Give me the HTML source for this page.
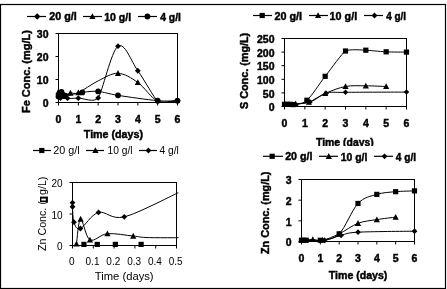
<!DOCTYPE html>
<html><head><meta charset="utf-8"><style>
html,body{margin:0;padding:0;background:#fff;width:447px;height:289px;overflow:hidden}
svg{display:block;will-change:transform}
text{font-family:"Liberation Sans", sans-serif;fill:#000}
</style></head><body>
<svg width="447" height="289" viewBox="0 0 447 289">
<defs><clipPath id="c3"><rect x="60" y="175" width="118.5" height="80"/></clipPath><clipPath id="p1"><rect x="58" y="33" width="120" height="70"/></clipPath><clipPath id="p2"><rect x="284" y="38" width="123" height="69"/></clipPath><clipPath id="p4"><rect x="301" y="179" width="114" height="63"/></clipPath><clipPath id="c2t"><rect x="0" y="0" width="447" height="146"/></clipPath></defs>
<rect x="0.5" y="4.5" width="445" height="284" fill="none" stroke="#000" stroke-width="1.2"/>
<rect x="58.5" y="33.5" width="119.0" height="69.0" fill="none" stroke="#000" stroke-width="1"/>
<path d="M55.5,102.50H58.5M55.5,79.50H58.5M55.5,56.50H58.5M55.5,33.50H58.5M58.50,102.5V105.5M78.33,102.5V105.5M98.17,102.5V105.5M118.00,102.5V105.5M137.83,102.5V105.5M157.67,102.5V105.5M177.50,102.5V105.5" stroke="#000" stroke-width="1" fill="none"/>
<text x="48.50" y="107.10" font-size="10.5" font-weight="bold" text-anchor="end" stroke="#000" stroke-width="0.45">0</text>
<text x="48.50" y="84.10" font-size="10.5" font-weight="bold" text-anchor="end" stroke="#000" stroke-width="0.45">10</text>
<text x="48.50" y="61.10" font-size="10.5" font-weight="bold" text-anchor="end" stroke="#000" stroke-width="0.45">20</text>
<text x="48.50" y="38.10" font-size="10.5" font-weight="bold" text-anchor="end" stroke="#000" stroke-width="0.45">30</text>
<text x="58.50" y="123.10" font-size="10.5" font-weight="bold" text-anchor="middle" stroke="#000" stroke-width="0.45">0</text>
<text x="78.33" y="123.10" font-size="10.5" font-weight="bold" text-anchor="middle" stroke="#000" stroke-width="0.45">1</text>
<text x="98.17" y="123.10" font-size="10.5" font-weight="bold" text-anchor="middle" stroke="#000" stroke-width="0.45">2</text>
<text x="118.00" y="123.10" font-size="10.5" font-weight="bold" text-anchor="middle" stroke="#000" stroke-width="0.45">3</text>
<text x="137.83" y="123.10" font-size="10.5" font-weight="bold" text-anchor="middle" stroke="#000" stroke-width="0.45">4</text>
<text x="157.67" y="123.10" font-size="10.5" font-weight="bold" text-anchor="middle" stroke="#000" stroke-width="0.45">5</text>
<text x="177.50" y="123.10" font-size="10.5" font-weight="bold" text-anchor="middle" stroke="#000" stroke-width="0.45">6</text>
<text x="83.80" y="137.80" font-size="11" font-weight="bold" textLength="59.20" lengthAdjust="spacingAndGlyphs" stroke="#000" stroke-width="0.45">Time (days)</text>
<text x="30.35" y="113.00" font-size="11" font-weight="bold" textLength="82.80" lengthAdjust="spacingAndGlyphs" stroke="#000" stroke-width="0.45" transform="rotate(-90 30.35 113.00)">Fe Conc. (mg/L)</text>
<path d="M27,16.5H46" stroke="#000" stroke-width="1.2"/>
<polygon points="37.20,13.31 40.39,16.50 37.20,19.69 34.01,16.50"/>
<text x="49.20" y="20.30" font-size="10.5" font-weight="bold" textLength="27.60" lengthAdjust="spacingAndGlyphs" stroke="#000" stroke-width="0.45">20 g/l</text>
<path d="M83,16.5H102" stroke="#000" stroke-width="1.2"/>
<polygon points="92.40,13.30 95.50,19.10 89.30,19.10"/>
<text x="104.20" y="20.70" font-size="10.5" font-weight="bold" textLength="27.00" lengthAdjust="spacingAndGlyphs" stroke="#000" stroke-width="0.45">10 g/l</text>
<path d="M138,16.5H157" stroke="#000" stroke-width="1.2"/>
<circle cx="147.40" cy="16.50" r="2.90"/>
<text x="160.20" y="20.70" font-size="10.5" font-weight="bold" textLength="20.80" lengthAdjust="spacingAndGlyphs" stroke="#000" stroke-width="0.45">4 g/l</text>
<path d="M58.50,94.22 C58.83,94.87 59.66,98.13 60.48,98.13 C61.31,98.13 62.30,94.22 63.46,94.22 C64.62,94.22 64.95,97.48 67.42,98.13 C69.90,98.78 73.21,98.17 78.33,98.13 C83.46,98.09 94.20,103.10 98.17,97.90 C102.13,92.70 111.39,50.67 118.00,46.15 C124.61,41.63 131.22,61.60 137.83,70.76 C144.44,79.92 154.36,98.63 157.67,101.12 C160.97,103.61 174.19,100.74 177.50,100.66" stroke="#000" stroke-width="1" fill="none" clip-path="url(#p1)"/>
<polygon points="58.50,91.32 61.40,94.22 58.50,97.12 55.60,94.22"/>
<polygon points="60.48,95.23 63.38,98.13 60.48,101.03 57.58,98.13"/>
<polygon points="63.46,91.32 66.36,94.22 63.46,97.12 60.56,94.22"/>
<polygon points="67.42,95.23 70.33,98.13 67.42,101.03 64.52,98.13"/>
<polygon points="78.33,95.23 81.23,98.13 78.33,101.03 75.43,98.13"/>
<polygon points="98.17,95.00 101.07,97.90 98.17,100.80 95.27,97.90"/>
<polygon points="118.00,43.25 120.90,46.15 118.00,49.05 115.10,46.15"/>
<polygon points="137.83,67.86 140.73,70.76 137.83,73.66 134.93,70.76"/>
<polygon points="157.67,98.22 160.57,101.12 157.67,104.02 154.77,101.12"/>
<polygon points="177.50,97.76 180.40,100.66 177.50,103.56 174.60,100.66"/>
<path d="M58.50,91.69 C59.16,92.50 60.48,96.29 62.47,96.52 C64.45,96.75 67.76,93.72 70.40,93.07 C73.04,92.42 73.71,94.64 78.33,92.61 C82.96,90.58 91.56,84.10 98.17,80.88 C104.78,77.66 111.39,73.02 118.00,73.29 C124.61,73.56 131.22,77.85 137.83,82.49 C144.44,87.13 151.06,98.09 157.67,101.12 C164.28,104.15 174.19,100.74 177.50,100.66" stroke="#000" stroke-width="1" fill="none" clip-path="url(#p1)"/>
<polygon points="58.50,88.49 61.60,94.29 55.40,94.29"/>
<polygon points="62.47,93.32 65.57,99.12 59.37,99.12"/>
<polygon points="70.40,89.87 73.50,95.67 67.30,95.67"/>
<polygon points="78.33,89.41 81.43,95.21 75.23,95.21"/>
<polygon points="118.00,70.09 121.10,75.89 114.90,75.89"/>
<polygon points="137.83,79.29 140.93,85.09 134.73,85.09"/>
<path d="M58.50,96.52 C59.00,95.75 60.32,92.07 61.48,91.92 C62.63,91.77 61.97,95.52 65.44,95.60 C68.91,95.68 76.85,93.07 82.30,92.38 C87.75,91.69 92.22,90.96 98.17,91.46 C104.12,91.96 108.08,93.84 118.00,95.37 C127.92,96.90 147.75,99.78 157.67,100.66 C167.58,101.54 174.19,100.66 177.50,100.66" stroke="#000" stroke-width="1" fill="none" clip-path="url(#p1)"/>
<circle cx="58.50" cy="96.52" r="2.90"/>
<circle cx="61.48" cy="91.92" r="2.90"/>
<circle cx="65.44" cy="95.60" r="2.90"/>
<circle cx="82.30" cy="92.38" r="2.90"/>
<circle cx="98.17" cy="91.46" r="2.90"/>
<circle cx="118.00" cy="95.37" r="2.90"/>
<circle cx="157.67" cy="100.66" r="2.90"/>
<circle cx="177.50" cy="100.66" r="2.90"/>
<rect x="284.5" y="38.5" width="122.0" height="68.0" fill="none" stroke="#000" stroke-width="1"/>
<path d="M281.5,106.50H284.5M281.5,92.90H284.5M281.5,79.30H284.5M281.5,65.70H284.5M281.5,52.10H284.5M281.5,38.50H284.5M284.50,106.5V109.5M304.83,106.5V109.5M325.17,106.5V109.5M345.50,106.5V109.5M365.83,106.5V109.5M386.17,106.5V109.5M406.50,106.5V109.5" stroke="#000" stroke-width="1" fill="none"/>
<text x="274.50" y="111.10" font-size="10.5" font-weight="bold" text-anchor="end" stroke="#000" stroke-width="0.45">0</text>
<text x="274.50" y="97.50" font-size="10.5" font-weight="bold" text-anchor="end" stroke="#000" stroke-width="0.45">50</text>
<text x="274.50" y="83.90" font-size="10.5" font-weight="bold" text-anchor="end" stroke="#000" stroke-width="0.45">100</text>
<text x="274.50" y="70.30" font-size="10.5" font-weight="bold" text-anchor="end" stroke="#000" stroke-width="0.45">150</text>
<text x="274.50" y="56.70" font-size="10.5" font-weight="bold" text-anchor="end" stroke="#000" stroke-width="0.45">200</text>
<text x="274.50" y="43.10" font-size="10.5" font-weight="bold" text-anchor="end" stroke="#000" stroke-width="0.45">250</text>
<text x="284.50" y="127.30" font-size="10.5" font-weight="bold" text-anchor="middle" stroke="#000" stroke-width="0.45">0</text>
<text x="304.83" y="127.30" font-size="10.5" font-weight="bold" text-anchor="middle" stroke="#000" stroke-width="0.45">1</text>
<text x="325.17" y="127.30" font-size="10.5" font-weight="bold" text-anchor="middle" stroke="#000" stroke-width="0.45">2</text>
<text x="345.50" y="127.30" font-size="10.5" font-weight="bold" text-anchor="middle" stroke="#000" stroke-width="0.45">3</text>
<text x="365.83" y="127.30" font-size="10.5" font-weight="bold" text-anchor="middle" stroke="#000" stroke-width="0.45">4</text>
<text x="386.17" y="127.30" font-size="10.5" font-weight="bold" text-anchor="middle" stroke="#000" stroke-width="0.45">5</text>
<text x="406.50" y="127.30" font-size="10.5" font-weight="bold" text-anchor="middle" stroke="#000" stroke-width="0.45">6</text>
<text x="316.00" y="145.80" font-size="11" font-weight="bold" textLength="57.80" lengthAdjust="spacingAndGlyphs" stroke="#000" stroke-width="0.45" clip-path="url(#c2t)">Time (days)</text>
<text x="248.20" y="109.00" font-size="11" font-weight="bold" textLength="76.20" lengthAdjust="spacingAndGlyphs" stroke="#000" stroke-width="0.45" transform="rotate(-90 248.20 109.00)">S Conc. (mg/L)</text>
<path d="M253,15.5H272" stroke="#000" stroke-width="1.2"/>
<rect x="259.60" y="12.90" width="5.20" height="5.20"/>
<text x="274.40" y="19.60" font-size="10.5" font-weight="bold" textLength="27.60" lengthAdjust="spacingAndGlyphs" stroke="#000" stroke-width="0.45">20 g/l</text>
<path d="M309,15.5H328" stroke="#000" stroke-width="1.2"/>
<polygon points="318.10,12.30 321.20,18.10 315.00,18.10"/>
<text x="329.60" y="19.60" font-size="10.5" font-weight="bold" textLength="27.60" lengthAdjust="spacingAndGlyphs" stroke="#000" stroke-width="0.45">10 g/l</text>
<path d="M364,15.5H383" stroke="#000" stroke-width="1.2"/>
<polygon points="374.50,12.60 377.40,15.50 374.50,18.40 371.60,15.50"/>
<text x="386.20" y="19.60" font-size="10.5" font-weight="bold" textLength="19.80" lengthAdjust="spacingAndGlyphs" stroke="#000" stroke-width="0.45">4 g/l</text>
<path d="M284.50,104.32 C284.94,104.32 286.23,104.32 287.14,104.32 C288.06,104.32 289.01,104.28 289.99,104.32 C290.97,104.37 290.23,105.28 293.04,104.60 C295.85,103.92 301.51,104.96 306.87,100.24 C312.22,95.53 318.73,84.51 325.17,76.31 C331.61,68.10 342.11,53.19 345.50,51.01 C348.89,48.84 363.12,50.14 365.83,50.20 C368.54,50.25 379.39,51.51 386.17,51.83 C392.94,52.15 403.11,52.05 406.50,52.10" stroke="#000" stroke-width="1" fill="none" clip-path="url(#p2)"/>
<rect x="281.90" y="101.72" width="5.20" height="5.20"/>
<rect x="284.54" y="101.72" width="5.20" height="5.20"/>
<rect x="287.39" y="101.72" width="5.20" height="5.20"/>
<rect x="290.44" y="102.00" width="5.20" height="5.20"/>
<rect x="304.27" y="97.64" width="5.20" height="5.20"/>
<rect x="322.57" y="73.71" width="5.20" height="5.20"/>
<rect x="342.90" y="48.41" width="5.20" height="5.20"/>
<rect x="363.23" y="47.60" width="5.20" height="5.20"/>
<rect x="383.57" y="49.23" width="5.20" height="5.20"/>
<rect x="403.90" y="49.50" width="5.20" height="5.20"/>
<path d="M284.50,105.41 C286.36,105.14 291.62,104.32 295.68,103.78 C299.75,103.24 303.99,103.87 308.90,102.15 C313.81,100.43 319.07,96.05 325.17,93.44 C331.27,90.84 338.72,87.78 345.50,86.51 C352.28,85.24 359.06,85.83 365.83,85.83 C372.61,85.83 382.78,86.39 386.17,86.51" stroke="#000" stroke-width="1" fill="none" clip-path="url(#p2)"/>
<polygon points="295.68,100.58 298.78,106.38 292.58,106.38"/>
<polygon points="308.90,98.95 312.00,104.75 305.80,104.75"/>
<polygon points="325.17,90.24 328.27,96.04 322.07,96.04"/>
<polygon points="345.50,83.31 348.60,89.11 342.40,89.11"/>
<polygon points="365.83,82.63 368.93,88.43 362.73,88.43"/>
<polygon points="386.17,83.31 389.27,89.11 383.07,89.11"/>
<path d="M284.50,105.41 C288.74,104.82 302.97,103.92 309.92,101.88 C316.86,99.84 320.25,94.76 326.18,93.17 C332.11,91.59 332.11,92.54 345.50,92.36 C358.89,92.17 396.33,92.13 406.50,92.08" stroke="#000" stroke-width="1" fill="none" clip-path="url(#p2)"/>
<polygon points="309.92,99.12 312.67,101.88 309.92,104.63 307.16,101.88"/>
<polygon points="326.18,90.42 328.94,93.17 326.18,95.93 323.43,93.17"/>
<polygon points="345.50,89.60 348.25,92.36 345.50,95.11 342.75,92.36"/>
<polygon points="406.50,89.33 409.25,92.08 406.50,94.84 403.75,92.08"/>
<rect x="72.5" y="182.5" width="104.0" height="63.0" fill="none" stroke="#000" stroke-width="1"/>
<path d="M69.5,245.50H72.5M69.5,214.00H72.5M69.5,182.50H72.5M72.50,245.5V248.5M93.30,245.5V248.5M114.10,245.5V248.5M134.90,245.5V248.5M155.70,245.5V248.5M176.50,245.5V248.5" stroke="#000" stroke-width="1" fill="none"/>
<text x="62.50" y="250.30" font-size="10" font-weight="normal" text-anchor="end" stroke="#000" stroke-width="0">0</text>
<text x="62.50" y="218.80" font-size="10" font-weight="normal" text-anchor="end" stroke="#000" stroke-width="0">10</text>
<text x="62.50" y="187.30" font-size="10" font-weight="normal" text-anchor="end" stroke="#000" stroke-width="0">20</text>
<text x="71.70" y="265.30" font-size="10" font-weight="normal" text-anchor="middle" stroke="#000" stroke-width="0">0</text>
<text x="92.50" y="265.30" font-size="10" font-weight="normal" text-anchor="middle" stroke="#000" stroke-width="0">0.1</text>
<text x="113.30" y="265.30" font-size="10" font-weight="normal" text-anchor="middle" stroke="#000" stroke-width="0">0.2</text>
<text x="134.10" y="265.30" font-size="10" font-weight="normal" text-anchor="middle" stroke="#000" stroke-width="0">0.3</text>
<text x="154.90" y="265.30" font-size="10" font-weight="normal" text-anchor="middle" stroke="#000" stroke-width="0">0.4</text>
<text x="175.70" y="265.30" font-size="10" font-weight="normal" text-anchor="middle" stroke="#000" stroke-width="0">0.5</text>
<text x="94.80" y="280.00" font-size="10" font-weight="normal" textLength="58.80" lengthAdjust="spacingAndGlyphs" stroke="#000" stroke-width="0">Time (days)</text>
<text x="46.10" y="251.00" font-size="10" font-weight="normal" textLength="74.40" lengthAdjust="spacingAndGlyphs" stroke="#000" stroke-width="0" transform="rotate(-90 46.10 251.00)">Zn Conc. (<tspan fill="#fff" stroke="none">µ</tspan>g/L)</text>
<rect x="40" y="196.6" width="7.9" height="5.6" fill="#000"/><rect x="41.4" y="198.6" width="4.4" height="1.9" fill="#fff"/>
<path d="M33,150.5H51" stroke="#000" stroke-width="1.2"/>
<rect x="39.20" y="147.90" width="5.20" height="5.20"/>
<text x="53.20" y="154.30" font-size="10" font-weight="normal" textLength="26.40" lengthAdjust="spacingAndGlyphs" stroke="#000" stroke-width="0">20 g/l</text>
<path d="M86,150.5H104" stroke="#000" stroke-width="1.2"/>
<polygon points="95.40,147.30 98.50,153.10 92.30,153.10"/>
<text x="107.60" y="154.30" font-size="10" font-weight="normal" textLength="25.00" lengthAdjust="spacingAndGlyphs" stroke="#000" stroke-width="0">10 g/l</text>
<path d="M139,150.5H157" stroke="#000" stroke-width="1.2"/>
<polygon points="148.40,147.60 151.30,150.50 148.40,153.40 145.50,150.50"/>
<text x="159.40" y="154.30" font-size="10" font-weight="normal" textLength="19.40" lengthAdjust="spacingAndGlyphs" stroke="#000" stroke-width="0">4 g/l</text>
<rect x="81.34" y="241.80" width="5.20" height="5.20"/>
<rect x="94.65" y="241.80" width="5.20" height="5.20"/>
<rect x="112.75" y="241.80" width="5.20" height="5.20"/>
<rect x="138.54" y="241.80" width="5.20" height="5.20"/>
<path d="M76.45,243.93 C77.15,239.78 78.36,219.72 80.61,219.04 C82.87,218.36 85.50,237.39 89.97,239.83 C94.44,242.27 100.23,234.32 107.44,233.69 C114.65,233.06 126.23,235.39 133.24,236.05 C140.24,236.71 138.78,237.36 149.46,237.62 C160.14,237.89 189.33,237.62 197.30,237.62" stroke="#000" stroke-width="1" fill="none" clip-path="url(#c3)"/>
<polygon points="76.45,240.73 79.55,246.53 73.35,246.53"/>
<polygon points="80.61,215.84 83.71,221.64 77.51,221.64"/>
<polygon points="89.97,236.63 93.07,242.43 86.87,242.43"/>
<polygon points="107.44,230.49 110.54,236.29 104.34,236.29"/>
<polygon points="133.24,232.85 136.34,238.65 130.14,238.65"/>
<path d="M72.50,202.66 C72.50,203.34 72.26,203.50 72.50,206.75 C72.74,210.01 72.64,218.57 73.96,222.19 C75.27,225.81 76.31,230.12 80.40,228.49 C84.49,226.86 91.19,214.37 98.50,212.43 C105.81,210.48 110.95,220.14 124.29,216.84 C137.64,213.53 169.53,196.62 178.58,192.58" stroke="#000" stroke-width="1" fill="none" clip-path="url(#c3)"/>
<polygon points="72.50,199.76 75.40,202.66 72.50,205.56 69.60,202.66"/>
<polygon points="72.50,203.85 75.40,206.75 72.50,209.66 69.60,206.75"/>
<polygon points="73.96,219.29 76.86,222.19 73.96,225.09 71.06,222.19"/>
<polygon points="80.40,225.59 83.30,228.49 80.40,231.39 77.50,228.49"/>
<polygon points="98.50,209.53 101.40,212.43 98.50,215.33 95.60,212.43"/>
<polygon points="124.29,213.94 127.19,216.84 124.29,219.74 121.39,216.84"/>
<rect x="301.5" y="179.5" width="113.0" height="62.0" fill="none" stroke="#000" stroke-width="1"/>
<path d="M298.5,241.50H301.5M298.5,220.83H301.5M298.5,200.17H301.5M298.5,179.50H301.5M301.50,241.5V244.5M320.33,241.5V244.5M339.17,241.5V244.5M358.00,241.5V244.5M376.83,241.5V244.5M395.67,241.5V244.5M414.50,241.5V244.5" stroke="#000" stroke-width="1" fill="none"/>
<text x="291.50" y="246.40" font-size="10.5" font-weight="bold" text-anchor="end" stroke="#000" stroke-width="0.45">0</text>
<text x="291.50" y="225.73" font-size="10.5" font-weight="bold" text-anchor="end" stroke="#000" stroke-width="0.45">1</text>
<text x="291.50" y="205.07" font-size="10.5" font-weight="bold" text-anchor="end" stroke="#000" stroke-width="0.45">2</text>
<text x="291.50" y="184.40" font-size="10.5" font-weight="bold" text-anchor="end" stroke="#000" stroke-width="0.45">3</text>
<text x="301.50" y="262.10" font-size="10.5" font-weight="bold" text-anchor="middle" stroke="#000" stroke-width="0.45">0</text>
<text x="320.33" y="262.10" font-size="10.5" font-weight="bold" text-anchor="middle" stroke="#000" stroke-width="0.45">1</text>
<text x="339.17" y="262.10" font-size="10.5" font-weight="bold" text-anchor="middle" stroke="#000" stroke-width="0.45">2</text>
<text x="358.00" y="262.10" font-size="10.5" font-weight="bold" text-anchor="middle" stroke="#000" stroke-width="0.45">3</text>
<text x="376.83" y="262.10" font-size="10.5" font-weight="bold" text-anchor="middle" stroke="#000" stroke-width="0.45">4</text>
<text x="395.67" y="262.10" font-size="10.5" font-weight="bold" text-anchor="middle" stroke="#000" stroke-width="0.45">5</text>
<text x="414.50" y="262.10" font-size="10.5" font-weight="bold" text-anchor="middle" stroke="#000" stroke-width="0.45">6</text>
<text x="328.80" y="279.20" font-size="11" font-weight="bold" textLength="58.60" lengthAdjust="spacingAndGlyphs" stroke="#000" stroke-width="0.45">Time (days)</text>
<text x="269.20" y="254.00" font-size="11" font-weight="bold" textLength="82.40" lengthAdjust="spacingAndGlyphs" stroke="#000" stroke-width="0.45" transform="rotate(-90 269.20 254.00)">Zn Conc. (mg/L)</text>
<path d="M263,156.3H283" stroke="#000" stroke-width="1.2"/>
<rect x="269.60" y="153.70" width="5.20" height="5.20"/>
<text x="285.20" y="160.00" font-size="10.5" font-weight="bold" textLength="27.20" lengthAdjust="spacingAndGlyphs" stroke="#000" stroke-width="0.45">20 g/l</text>
<path d="M319,156.3H338" stroke="#000" stroke-width="1.2"/>
<polygon points="328.80,153.10 331.90,158.90 325.70,158.90"/>
<text x="340.80" y="160.90" font-size="10.5" font-weight="bold" textLength="26.60" lengthAdjust="spacingAndGlyphs" stroke="#000" stroke-width="0.45">10 g/l</text>
<path d="M374,156.3H393" stroke="#000" stroke-width="1.2"/>
<polygon points="384.50,153.40 387.40,156.30 384.50,159.20 381.60,156.30"/>
<text x="395.80" y="160.90" font-size="10.5" font-weight="bold" textLength="20.20" lengthAdjust="spacingAndGlyphs" stroke="#000" stroke-width="0.45">4 g/l</text>
<path d="M301.50,240.26 C301.88,240.26 302.98,240.26 303.76,240.26 C304.54,240.26 303.45,240.26 306.21,240.26 C308.97,240.26 314.84,241.33 320.33,240.26 C325.83,239.19 332.89,239.98 339.17,233.85 C345.44,227.72 351.72,210.05 358.00,203.47 C364.28,196.89 370.56,196.34 376.83,194.38 C383.11,192.42 389.39,192.28 395.67,191.69 C401.94,191.11 411.36,191.00 414.50,190.87" stroke="#000" stroke-width="1" fill="none" clip-path="url(#p4)"/>
<rect x="298.90" y="237.66" width="5.20" height="5.20"/>
<rect x="301.16" y="237.66" width="5.20" height="5.20"/>
<rect x="303.61" y="237.66" width="5.20" height="5.20"/>
<rect x="317.73" y="237.66" width="5.20" height="5.20"/>
<rect x="336.57" y="231.25" width="5.20" height="5.20"/>
<rect x="355.40" y="200.87" width="5.20" height="5.20"/>
<rect x="374.23" y="191.78" width="5.20" height="5.20"/>
<rect x="393.07" y="189.09" width="5.20" height="5.20"/>
<rect x="411.90" y="188.27" width="5.20" height="5.20"/>
<path d="M301.50,240.26 C303.38,240.12 309.28,239.43 312.80,239.43 C316.32,239.43 318.20,241.19 322.59,240.26 C326.99,239.33 333.27,236.68 339.17,233.85 C345.07,231.03 351.72,225.69 358.00,223.31 C364.28,220.94 370.56,220.63 376.83,219.59 C383.11,218.56 392.53,217.53 395.67,217.11" stroke="#000" stroke-width="1" fill="none" clip-path="url(#p4)"/>
<polygon points="301.50,237.06 304.60,242.86 298.40,242.86"/>
<polygon points="312.80,236.23 315.90,242.03 309.70,242.03"/>
<polygon points="322.59,237.06 325.69,242.86 319.49,242.86"/>
<polygon points="339.17,230.65 342.27,236.45 336.07,236.45"/>
<polygon points="358.00,220.11 361.10,225.91 354.90,225.91"/>
<polygon points="376.83,216.39 379.93,222.19 373.73,222.19"/>
<polygon points="395.67,213.91 398.77,219.71 392.57,219.71"/>
<path d="M301.50,240.26 C305.33,240.26 317.88,241.09 324.48,240.26 C331.07,239.43 335.46,236.64 341.05,235.30 C346.64,233.96 345.76,232.89 358.00,232.20 C370.24,231.51 405.08,231.34 414.50,231.17" stroke="#000" stroke-width="1" fill="none" clip-path="url(#p4)"/>
<polygon points="301.50,237.36 304.40,240.26 301.50,243.16 298.60,240.26"/>
<polygon points="324.48,237.36 327.38,240.26 324.48,243.16 321.58,240.26"/>
<polygon points="341.05,232.40 343.95,235.30 341.05,238.20 338.15,235.30"/>
<polygon points="358.00,229.30 360.90,232.20 358.00,235.10 355.10,232.20"/>
<polygon points="414.50,228.27 417.40,231.17 414.50,234.07 411.60,231.17"/>
</svg>
</body></html>
